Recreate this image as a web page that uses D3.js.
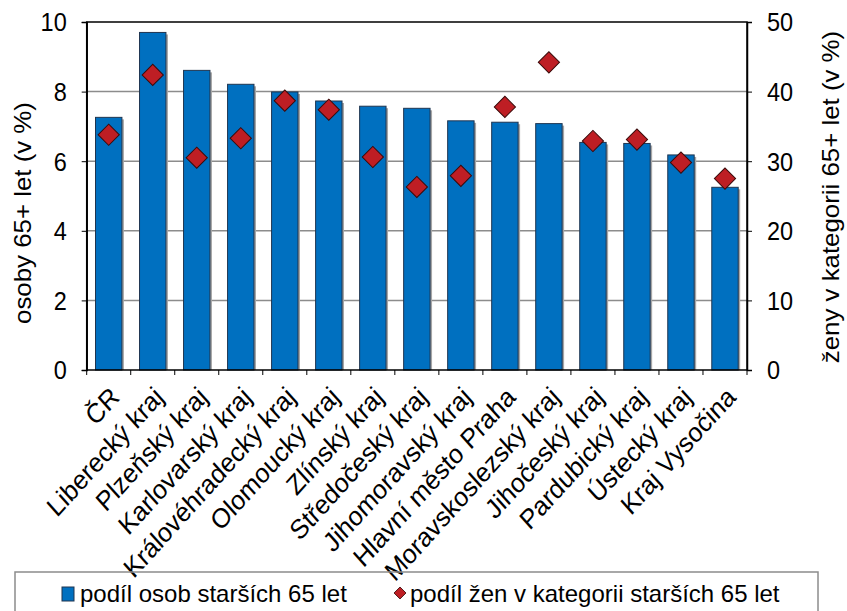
<!DOCTYPE html>
<html>
<head>
<meta charset="utf-8">
<script src="https://cdn.jsdelivr.net/npm/d3@7"></script>
<style>
  body { margin: 0; background: #fff; }
  text { font-family: "Liberation Sans", Arial, sans-serif; fill: #000; }
</style>
</head>
<body>
<script>
var width = 847;
var height = 611;

// data
var regions = ["ČR", "Liberecký kraj", "Plzeňský kraj", "Karlovarský kraj", "Královéhradecký kraj",
  "Olomoucký kraj", "Zlínský kraj", "Středočeský kraj", "Jihomoravský kraj", "Hlavní město Praha",
  "Moravskoslezský kraj", "Jihočeský kraj", "Pardubický kraj", "Ústecký kraj", "Kraj Vysočina"];
var shareOld = [7.26, 9.70, 8.61, 8.21, 7.99, 7.73, 7.58, 7.52, 7.16, 7.12, 7.08, 6.54, 6.51, 6.18, 5.25];
var shareWomen = [33.8, 42.4, 30.5, 33.3, 38.7, 37.4, 30.6, 26.3, 27.9, 37.8, 44.2, 32.9, 33.1, 29.8, 27.5];
var leftTicks = [0, 2, 4, 6, 8, 10];
var rightTicks = [0, 10, 20, 30, 40, 50];

var plot = {left: 86.7, right: 747, top: 22, bottom: 370};

var svg = d3.select("body").append("svg").attr("width", width).attr("height", height);

var x = d3.scaleBand().domain(regions).range([plot.left, plot.right]).paddingInner(0.4).paddingOuter(0.2);
var yL = d3.scaleLinear().domain([0, 10]).range([plot.bottom, plot.top]);
var yR = d3.scaleLinear().domain([0, 50]).range([plot.bottom, plot.top]);

// gridlines
svg.append("g").selectAll("line").data(leftTicks.slice(1, 5)).enter().append("line")
  .attr("x1", plot.left).attr("x2", plot.right)
  .attr("y1", function(d) { return yL(d); }).attr("y2", function(d) { return yL(d); })
  .attr("stroke", "#8c8c8c").attr("stroke-width", 1.5);

// bars with a small shadow
var bars = svg.append("g").selectAll("g").data(regions).enter().append("g");
bars.append("rect")
  .attr("x", function(d) { return x(d) + 2; })
  .attr("y", function(d, i) { return yL(shareOld[i]) + 2; })
  .attr("width", x.bandwidth())
  .attr("height", function(d, i) { return plot.bottom - yL(shareOld[i]) - 2; })
  .attr("fill", "#a6a6a6");
bars.append("rect")
  .attr("x", function(d) { return x(d); })
  .attr("y", function(d, i) { return yL(shareOld[i]); })
  .attr("width", x.bandwidth())
  .attr("height", function(d, i) { return plot.bottom - yL(shareOld[i]); })
  .attr("fill", "#0070c0").attr("stroke", "#1f3550").attr("stroke-width", 1);

// frame
svg.append("rect").attr("x", plot.left).attr("y", plot.top)
  .attr("width", plot.right - plot.left).attr("height", plot.bottom - plot.top)
  .attr("fill", "none").attr("stroke", "#000").attr("stroke-width", 1.5);

// diamonds
var diamond = d3.symbol().type(d3.symbolSquare).size(225);
svg.append("g").selectAll("path").data(regions).enter().append("path")
  .attr("d", diamond)
  .attr("transform", function(d, i) {
    return "translate(" + (x(d) + x.bandwidth() / 2) + "," + yR(shareWomen[i]) + ") rotate(45)";
  })
  .attr("fill", "#be1e24").attr("stroke", "#3a0a0a").attr("stroke-width", 1);

// tick labels are a bit taller than wide in the original
function stretchTicks(ax) {
  ax.selectAll(".tick text")
    .style("font-size", "23.5px")
    .attr("dy", "0.35em")
    .attr("transform", "scale(1,1.08)")
    .attr("y", function() { return 0; });
}

// left axis
var axL = svg.append("g").attr("transform", "translate(" + plot.left + ",0)")
  .call(d3.axisLeft(yL).tickValues(leftTicks).tickSize(5).tickPadding(15));
axL.select(".domain").attr("stroke-width", 1.5);
stretchTicks(axL);

// right axis
var axR = svg.append("g").attr("transform", "translate(" + plot.right + ",0)")
  .call(d3.axisRight(yR).tickValues(rightTicks).tickSize(5).tickPadding(15));
axR.select(".domain").attr("stroke-width", 1.5);
stretchTicks(axR);

// bottom axis: ticks between categories
var step = x.step();
var edges = d3.range(regions.length + 1).map(function(i) {
  return plot.left + step * x.paddingOuter() - step * x.paddingInner() / 2 + i * step;
});
svg.append("g").selectAll("line").data(edges).enter().append("line")
  .attr("x1", function(d) { return d; }).attr("x2", function(d) { return d; })
  .attr("y1", plot.bottom).attr("y2", plot.bottom + 5)
  .attr("stroke", "#000").attr("stroke-width", 1);

svg.append("g").selectAll("text").data(regions).enter().append("text")
  .attr("transform", function(d) {
    return "translate(" + (x(d) + x.bandwidth() / 2 + 6) + "," + (plot.bottom + 22) + ") scale(1.03,1.14) rotate(-45)";
  })
  .attr("text-anchor", "end")
  .attr("dy", "0.35em")
  .style("font-size", "24px")
  .text(function(d) { return d; });

// axis titles
svg.append("text")
  .attr("transform", "translate(31,213) rotate(-90) scale(1.1,1)")
  .attr("text-anchor", "middle")
  .style("font-size", "23.5px")
  .text("osoby 65+ let (v %)");
svg.append("text")
  .attr("transform", "translate(839,197) rotate(-90) scale(1.1,1)")
  .attr("text-anchor", "middle")
  .style("font-size", "23.5px")
  .text("ženy v kategorii 65+ let (v %)");

// legend
svg.append("rect").attr("x", 15).attr("y", 572).attr("width", 803).attr("height", 50)
  .attr("fill", "none").attr("stroke", "#8c8c8c").attr("stroke-width", 1.5);
svg.append("rect").attr("x", 62).attr("y", 587).attr("width", 12).attr("height", 14)
  .attr("fill", "#0070c0").attr("stroke", "#1f3550").attr("stroke-width", 1);
svg.append("text").attr("x", 80).attr("y", 602).style("font-size", "24px").text("podíl osob starších 65 let");
svg.append("path").attr("d", d3.symbol().type(d3.symbolSquare).size(72))
  .attr("transform", "translate(400,593) rotate(45)")
  .attr("fill", "#be1e24").attr("stroke", "#3a0a0a").attr("stroke-width", 0.8);
svg.append("text").attr("x", 410).attr("y", 602).style("font-size", "24px").text("podíl žen v kategorii starších 65 let");
</script>
</body>
</html>
